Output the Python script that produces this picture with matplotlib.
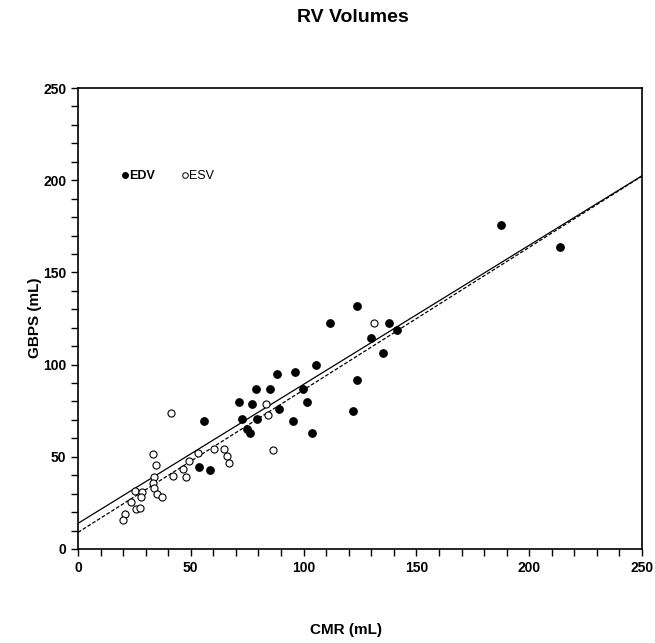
import numpy as np
import matplotlib
matplotlib.use("Agg")
import matplotlib.pyplot as plt
from matplotlib.ticker import MultipleLocator
from matplotlib.lines import Line2D

plt.rcParams['font.family'] = ['Liberation Sans', 'DejaVu Sans']

# EDV (filled) points: CMR, GBPS
edv_cmr = [187.4, 213.7, 123.5, 111.8, 138.0, 130.0, 141.3, 135.1, 105.4, 96.2,
           88.3, 78.9, 85.2, 99.9, 123.5, 71.5, 77.1, 101.6, 89.1, 121.8,
           72.8, 79.2, 95.2, 56.0, 74.8, 76.2, 103.7, 53.6, 58.5]
edv_gbps = [175.7, 163.6, 131.8, 122.7, 122.7, 114.6, 118.8, 106.5, 99.6, 96.0,
            94.7, 86.8, 86.8, 86.8, 91.8, 79.7, 78.5, 79.7, 75.8, 74.8,
            70.7, 70.7, 69.6, 69.6, 64.9, 62.7, 62.7, 44.6, 42.8]

# ESV (open) points: CMR, GBPS
esv_cmr = [131.3, 83.3, 84.2, 86.4, 41.1, 33.2, 34.4, 42.2, 33.8, 33.1,
           33.6, 35.2, 37.4, 25.3, 28.5, 27.8, 23.4, 25.7, 27.5, 20.8,
           19.9, 46.4, 47.9, 49.2, 53.3, 60.4, 64.9, 65.9, 66.9]
esv_gbps = [122.7, 78.5, 72.7, 53.5, 73.6, 51.7, 45.7, 39.6, 38.9, 36.0,
            33.2, 30.0, 28.4, 31.5, 30.7, 28.4, 25.7, 21.5, 22.1, 18.8,
            15.7, 43.2, 39.0, 47.9, 51.9, 54.4, 54.4, 50.6, 46.8]

# fitted lines (intercept, slope)
fit_solid = (13.9, 0.754)
fit_dashed = (9.0, 0.773)

fig = plt.figure(figsize=(6.55, 6.43), dpi=100)
ax = fig.add_axes([78 / 655, 94 / 643, 564 / 655, 461 / 643])

xs = np.array([0, 250])
ax.plot(xs, fit_solid[0] + fit_solid[1] * xs, color='black', lw=0.9, zorder=2)
ax.plot(xs, fit_dashed[0] + fit_dashed[1] * xs, color='black', lw=0.9,
        linestyle=(0, (3, 1.5)), zorder=2)

ax.scatter(edv_cmr, edv_gbps, s=28, color='black', zorder=3)
ax.scatter(esv_cmr, esv_gbps, s=26, facecolors='white', edgecolors='black',
           linewidths=0.8, zorder=3)

ax.set_xlim(0, 250)
ax.set_ylim(0, 250)
ax.xaxis.set_major_locator(MultipleLocator(50))
ax.yaxis.set_major_locator(MultipleLocator(50))
ax.xaxis.set_minor_locator(MultipleLocator(10))
ax.yaxis.set_minor_locator(MultipleLocator(10))
ax.tick_params(which='both', direction='out', length=5, width=1, color='black')
for lab in ax.get_xticklabels() + ax.get_yticklabels():
    lab.set_fontweight('bold')
    lab.set_fontsize(10)
for sp in ax.spines.values():
    sp.set_linewidth(1.2)

handles = [Line2D([], [], marker='o', ls='none', color='black', markersize=4),
           Line2D([], [], marker='o', ls='none', markerfacecolor='white',
                  markeredgecolor='black', markeredgewidth=0.7, markersize=4)]
leg = ax.legend(handles, ['EDV', 'ESV'], ncol=2, loc='upper left',
                bbox_to_anchor=(0.058, 0.846), frameon=False, fontsize=9,
                handlelength=0.5, handletextpad=0.1, columnspacing=2.1)
leg.get_texts()[0].set_fontweight('bold')

fig.text(353 / 655, 1 - 18 / 643, 'RV Volumes', ha='center', va='center',
         fontsize=14, fontweight='bold')
fig.text(346 / 655, 1 - 630 / 643, 'CMR (mL)', ha='center', va='center',
         fontsize=11, fontweight='bold')
fig.text(35 / 655, 1 - 318 / 643, 'GBPS (mL)', ha='center', va='center',
         fontsize=11, fontweight='bold', rotation=90)

fig.savefig('out.png', dpi=100)
